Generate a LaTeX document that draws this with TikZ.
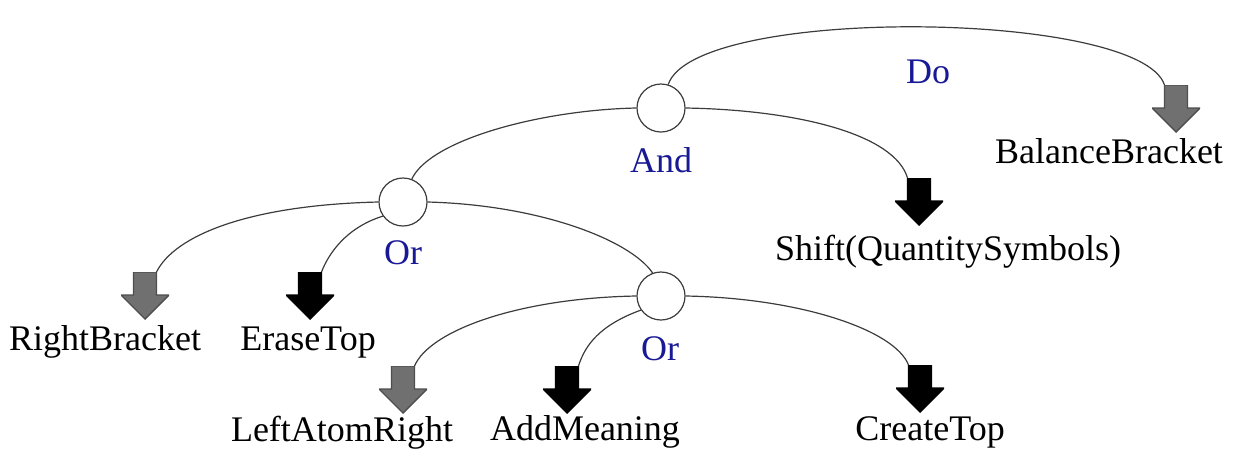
\documentclass[tikz,border=0pt]{standalone}
\usepackage{fontspec}
\setmainfont{Liberation Serif}
\usetikzlibrary{calc}
\definecolor{lbl}{RGB}{25,25,150}
\definecolor{ln}{RGB}{60,60,60}
\definecolor{garr}{RGB}{112,112,112}
\tikzset{
  txt/.style={anchor=base, inner sep=0pt, font=\fontsize{36}{40}\selectfont},
  optxt/.style={txt, text=lbl},
  opnode/.style={circle, draw=ln, line width=1.2pt, fill=white, minimum size=48pt, inner sep=0pt},
  conn/.style={draw=ln, line width=1.2pt},
  arrbox/.style={rectangle, minimum width=48pt, minimum height=47pt, inner sep=0pt, outer sep=0pt,
    path picture={
      \filldraw[fill=#1, draw=#1!70!black, line width=1.4pt]
        ([xshift=12.5pt]path picture bounding box.north west) --
        ([xshift=-12.5pt]path picture bounding box.north east) --
        ([xshift=-12.5pt,yshift=-23pt]path picture bounding box.north east) --
        ([yshift=-23pt]path picture bounding box.north east) --
        (path picture bounding box.south) --
        ([yshift=-23pt]path picture bounding box.north west) --
        ([xshift=12.5pt,yshift=-23pt]path picture bounding box.north west) -- cycle;
    }},
}
\begin{document}
\begin{tikzpicture}[x=1pt,y=-1pt]
\useasboundingbox (0,0) rectangle (1241,451);
% operator nodes
\node[opnode] (and) at (661,108) {};
\node[opnode] (or1) at (403,202) {};
\node[opnode] (or2) at (661,296) {};
% arrows
\node[arrbox=garr]  (bal) at (1176,108.5) {};
\node[arrbox=black] (shf) at (919,201.5) {};
\node[arrbox=garr]  (rb)  at (145,295.5) {};
\node[arrbox=black] (et)  at (310,295.5) {};
\node[arrbox=garr]  (lar) at (403,389.5) {};
\node[arrbox=black] (am)  at (567,389.5) {};
\node[arrbox=black] (ct)  at (920,388.5) {};
% labels
\node[optxt] (ldo)  at (928,83) {Do};
\node[optxt] (land) at (661,172) {And};
\node[optxt] (lor1) at (403,264) {Or};
\node[optxt] (lor2) at (660,360) {Or};
\node[txt] (tbal) at (1109,163) {BalanceBracket};
\node[txt] (tshf) at (948,260) {Shift(QuantitySymbols)};
\node[txt] (trb)  at (105,350) {RightBracket};
\node[txt] (tet)  at (308,350) {EraseTop};
\node[txt] (tlar) at (342,441) {LeftAtomRight};
\node[txt] (tam)  at (585,440) {AddMeaning};
\node[txt] (tct)  at (930,440) {CreateTop};
% connectors
\draw[conn] (and.73) .. controls (695,5) and (1140,10) .. ($(bal.north)+(-11.5,0)$);
\draw[conn] (and.east) .. controls (800,110) and (895,135) .. ($(shf.north)+(-11.5,0)$);
\draw[conn] (and.west) .. controls (540,110) and (430,140) .. (or1.69);
\draw[conn] (or1.west) .. controls (250,205) and (175,235) .. ($(rb.north)+(11.5,0)$);
\draw[conn] (or1.215) .. controls (345,228) and (328,255) .. ($(et.north)+(11.5,0)$);
\draw[conn] (or1.east) .. controls (540,205) and (630,240) .. (or2.110);
\draw[conn] (or2.west) .. controls (520,298) and (430,330) .. ($(lar.north)+(11.5,0)$);
\draw[conn] (or2.215) .. controls (600,325) and (585,345) .. ($(am.north)+(11.5,0)$);
\draw[conn] (or2.east) .. controls (800,298) and (895,330) .. ($(ct.north)+(-11.5,0)$);
\end{tikzpicture}
\end{document}
